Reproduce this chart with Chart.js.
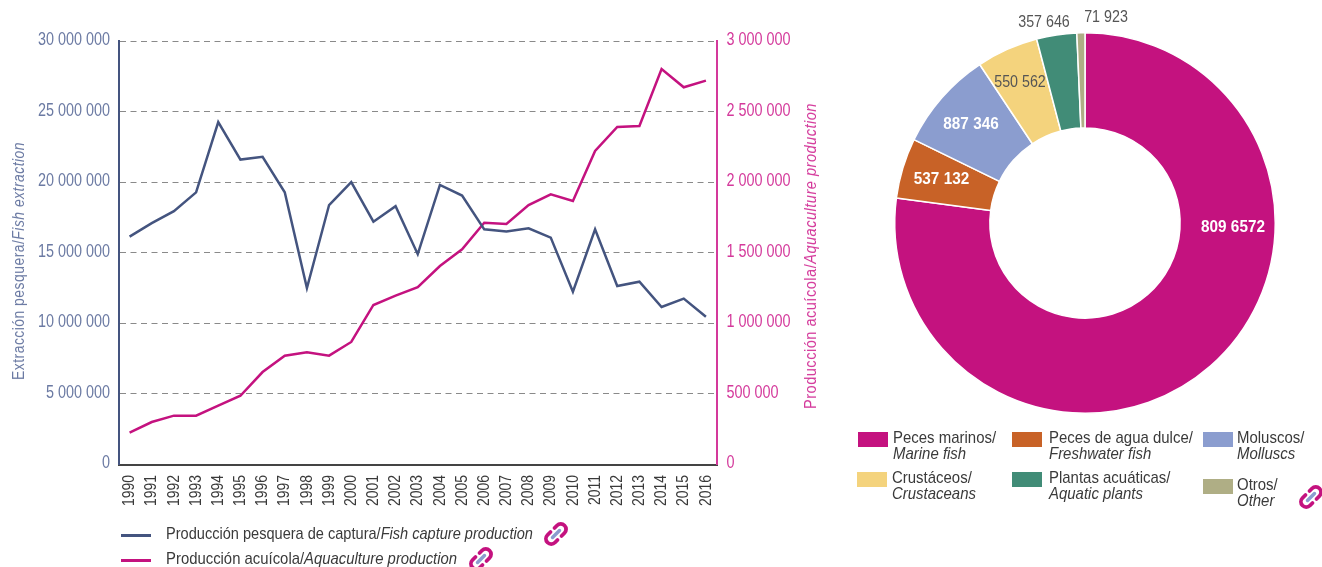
<!DOCTYPE html>
<html><head><meta charset="utf-8">
<script src="https://cdn.jsdelivr.net/npm/chart.js@4"></script>
<style>
html,body{margin:0;padding:0;background:#fff;width:1322px;height:567px;overflow:hidden}
body{position:relative;font-family:"Liberation Sans",sans-serif}
canvas{position:absolute}
#c1{left:0;top:0}#c2{left:840px;top:0}
.t{position:absolute;white-space:nowrap;color:#3a3a3a;font-size:17px;line-height:16px;transform-origin:0 50%}
.rot{position:absolute;white-space:nowrap;font-size:16px;letter-spacing:.55px;line-height:18px}
.sw{position:absolute;width:30px;height:15px}
.ln{position:absolute;width:30px;height:2.5px}
svg.lk{position:absolute;width:24px;height:24px}
</style></head><body>
<div style="position:absolute;left:0;top:0;width:840px;height:567px"><canvas id="c1"></canvas></div>
<div style="position:absolute;left:840px;top:0;width:482px;height:567px"><canvas id="c2" style="left:0"></canvas></div>
<div id="over"></div>
<script>
const years=['1990','1991','1992','1993','1994','1995','1996','1997','1998','1999','2000','2001','2002','2003','2004','2005','2006','2007','2008','2009','2010','2011','2012','2013','2014','2015','2016'];
const fishCapture=[16140000,17100000,17950000,19280000,24260000,21600000,21800000,19280000,12500000,18380000,20000000,17200000,18300000,14900000,19800000,19050000,16660000,16500000,16730000,16070000,12240000,16660000,12640000,12950000,11160000,11750000,10470000];
const aquaculture=[225000,301000,346000,346000,417000,487000,655000,771000,795000,771000,868000,1130000,1196000,1257000,1406000,1524000,1713000,1704000,1838000,1914000,1867000,2221000,2391000,2398000,2802000,2672000,2719000];
const groupValues=[8096572,537132,887346,550562,357646,71923];
const groupLabels=['809 6572','537 132','887 346','550 562','357 646','71 923'];
const groupEs=['Peces marinos/','Peces de agua dulce/','Moluscos/','Crustáceos/','Plantas acuáticas/','Otros/'];
const groupEn=['Marine fish','Freshwater fish','Molluscs','Crustaceans','Aquatic plants','Other'];
const lineNames=[['Producción pesquera de captura/','Fish capture production'],['Producción acuícola/','Aquaculture production']];

const BLUE='#44547f',MAG='#c4127f',BT='#6b7aa3',MT='#d4399b';
const FF='"Liberation Sans",sans-serif';
const grp=n=>String(n).replace(/\B(?=(\d{3})+(?!\d))/g,' ');
const condensedTicks={id:'condensedTicks',afterDraw(c){
  const g=c.ctx,sx=.8;g.save();g.textBaseline='middle';g.font='18px '+FF;
  c.scales.y.ticks.forEach(t=>{const py=c.scales.y.getPixelForValue(t.value);
    g.save();g.translate(110,py-1);g.scale(sx,1);g.textAlign='right';g.fillStyle=BT;g.fillText(t.label,0,0);g.restore();});
  c.scales.y2.ticks.forEach(t=>{const py=c.scales.y2.getPixelForValue(t.value);
    g.save();g.translate(726.5,py-1);g.scale(sx,1);g.textAlign='left';g.fillStyle=MT;g.fillText(t.label,0,0);g.restore();});
  g.font='17px '+FF;
  c.scales.x.ticks.forEach((t,i)=>{const px=c.scales.x.getPixelForTick(i);
    g.save();g.translate(px,475);g.rotate(-Math.PI/2);g.scale(.82,1);g.textAlign='right';g.fillStyle='#3a3a3a';g.fillText(t.label,0,0);g.restore();});
  g.restore();}};
const cv1=document.getElementById('c1');cv1.width=840;cv1.height=567;
new Chart(cv1,{type:'line',data:{labels:years,datasets:[
 {data:fishCapture,yAxisID:'y',borderColor:BLUE,borderWidth:2.5,pointRadius:0,tension:0,borderJoinStyle:'miter'},
 {data:aquaculture,yAxisID:'y2',borderColor:MAG,borderWidth:2.5,pointRadius:0,tension:0,borderJoinStyle:'miter'}]},
 options:{responsive:false,animation:false,devicePixelRatio:1,
 layout:{padding:{top:41,left:0,right:0,bottom:0}},
 plugins:{legend:{display:false},tooltip:{enabled:false}},
 scales:{
  x:{offset:true,afterFit:s=>{s.height=102.5},grid:{display:false,drawTicks:false},border:{color:'#444',width:2},
     ticks:{display:false,autoSkip:false}},
  y:{position:'left',min:0,max:30000000,afterFit:s=>{s.width=118.5},
     grid:{color:'#8a8a8a',lineWidth:1,drawTicks:false},border:{color:BLUE,width:2,dash:[6,4.5]},
     ticks:{display:false,stepSize:5000000,callback:grp}},
  y2:{position:'right',min:0,max:3000000,afterFit:s=>{s.width=123},
     grid:{display:false,drawTicks:false},border:{color:MT,width:2},
     ticks:{display:false,stepSize:500000,callback:grp}}
 }},plugins:[condensedTicks]});

const sliceColors=['#c4127f','#c86227','#8b9dcf','#f4d37d','#418c77','#afae85'];
const labelColors=['#fff','#fff','#fff','#555','#555','#555'];
const labelOffsets=[[148,4],[-143.5,-44],[-114,-99],[-65,-141],[-41,-201],[21,-206]];
const sliceLabels={id:'sliceLabels',afterDatasetsDraw(c){
  const a=c.getDatasetMeta(0).data[0],x=a.x,y=a.y,g=c.ctx;
  groupLabels.forEach((t,i)=>{g.save();g.textAlign='center';g.textBaseline='middle';
    g.font=(i<3?'bold ':'')+'17px '+FF;g.fillStyle=labelColors[i];
    g.translate(x+labelOffsets[i][0],y+labelOffsets[i][1]);g.scale(i<3?.9:.84,1);
    g.fillText(t,0,0);g.restore();});}};
const cv2=document.getElementById('c2');cv2.width=482;cv2.height=567;
new Chart(cv2,{type:'doughnut',data:{labels:groupEs,datasets:[{data:groupValues,backgroundColor:sliceColors,borderColor:'#fff',borderWidth:1.5}]},
 options:{responsive:false,animation:false,devicePixelRatio:1,cutout:'50%',
 layout:{padding:{left:54,right:46,top:32,bottom:153}},
 plugins:{legend:{display:false},tooltip:{enabled:false}}},plugins:[sliceLabels]});

const over=document.getElementById('over');
function add(html){over.insertAdjacentHTML('beforeend',html)}
add(`<div class="rot" style="left:19px;top:261px;color:${BT};transform:translate(-50%,-50%) rotate(-90deg) scaleX(.87)">Extracción pesquera/<i>Fish extraction</i></div>`);
add(`<div class="rot" style="left:811px;top:255.5px;color:${MT};transform:translate(-50%,-50%) rotate(-90deg) scaleX(.91)">Producción acuícola/<i>Aquaculture production</i></div>`);
const link=(x,y)=>`<svg class="lk" style="left:${x}px;top:${y}px" viewBox="0 0 24 24"><g fill="none" stroke-linecap="round"><path d="M8.5 15.5L15.5 8.5" stroke="#8b9dcf" stroke-width="3.4"/><path d="M10.5 6l2.5-2.5a5 5 0 0 1 7.5 7.5l-3 3M13.5 18l-2.5 2.5a5 5 0 0 1-7.5-7.5l3-3" stroke="#c4127f" stroke-width="3.8"/></g></svg>`;
const lineY=[534,559],lineC=[BLUE,MAG],linkX=[544,469],lineScale=[.857,.875];
lineNames.forEach((n,i)=>{
 add(`<div class="ln" style="left:121px;top:${lineY[i]}px;background:${lineC[i]}"></div>`);
 add(`<div class="t" style="left:166px;top:${lineY[i]-8}px;transform:scaleX(${lineScale[i]})">${n[0]}<i>${n[1]}</i></div>`);
 add(link(linkX[i],lineY[i]-12));
});
const swX=[858,1012,1203,857,1012,1203],swY=[432,432,432,472,472,479],txX=[893,1049,1237,892,1049,1237];
groupEs.forEach((n,i)=>{
 add(`<div class="sw" style="left:${swX[i]}px;top:${swY[i]}px;background:${sliceColors[i]}"></div>`);
 add(`<div class="t" style="left:${txX[i]}px;top:${swY[i]-2}px;transform:scaleX(.88)">${n}<br><i>${groupEn[i]}</i></div>`);
});
add(link(1299,485));
</script></body></html>
